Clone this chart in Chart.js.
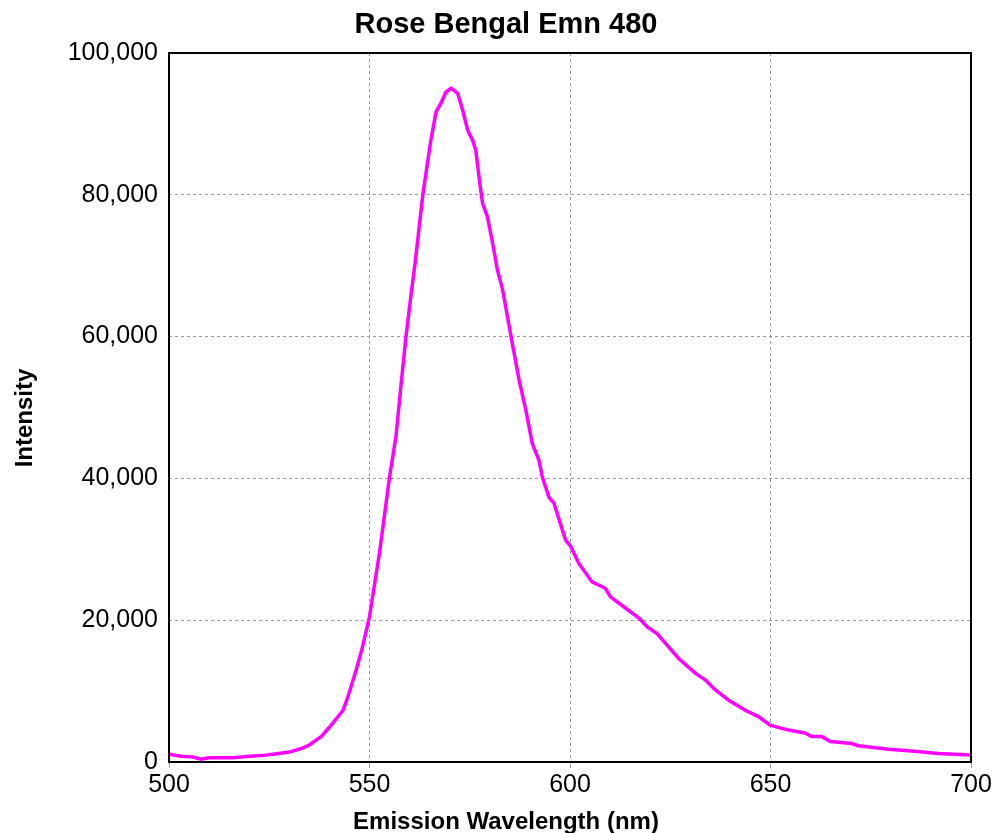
<!DOCTYPE html>
<html>
<head>
<meta charset="utf-8">
<script src="https://cdn.jsdelivr.net/npm/chart.js@4"></script>
<style>
  html, body { margin: 0; padding: 0; background: #fff; }
  #wrap { width: 999px; height: 833px; }
</style>
</head>
<body>
<div id="wrap"><canvas id="emnchart"></canvas></div>
<script>
const wavelength = [500, 503, 506, 508, 510, 513, 516, 520, 523, 526, 530, 533, 535, 538, 540, 541, 543.4, 544.5, 546.7, 548.3, 550, 552.5, 555, 556.6, 557.9, 559.1, 560.4, 561.4, 563.3, 565.3, 566.6, 567.8, 569.1, 570.3, 571.2, 572, 573.2, 574.5, 575.7, 576.5, 577.4, 578.2, 579.4, 580.7, 581.9, 583.2, 585.3, 587.3, 589, 590.6, 592.3, 593.1, 594.8, 596, 598.9, 600.1, 602.2, 605.5, 608.8, 610.1, 613.4, 617.2, 619.2, 621.7, 627.1, 631.3, 633.7, 636.2, 639.6, 643.7, 647, 649.9, 654.5, 658.6, 660.3, 662.8, 664.9, 670.3, 671.9, 679.4, 686, 691.8, 700];
const intensity = [1100, 800, 700, 400, 600, 600, 600, 800, 900, 1100, 1400, 1900, 2400, 3600, 4900, 5600, 7300, 9000, 13000, 16300, 20500, 29500, 40200, 45900, 53400, 60000, 66100, 70500, 80000, 87700, 91700, 92900, 94500, 95000, 94700, 94300, 92000, 89100, 87700, 86300, 82100, 78800, 76900, 73200, 69400, 66600, 60000, 53900, 49600, 44900, 42500, 40200, 37300, 36500, 31300, 30500, 28000, 25400, 24500, 23300, 21900, 20300, 19100, 18100, 14600, 12500, 11600, 10200, 8700, 7300, 6400, 5200, 4500, 4100, 3600, 3600, 2900, 2600, 2300, 1800, 1500, 1200, 1000];
const xTicks = [500, 550, 600, 650, 700];
const yTicks = [0, 20000, 40000, 60000, 80000, 100000];

const chartTitle = "Rose Bengal Emn 480";
const xTitle = "Emission Wavelength (nm)";
const yTitle = "Intensity";

const points = wavelength.map((w, i) => ({ x: w, y: intensity[i] }));

// black frame round the plot area, plus the titles (the original
// centres them on the picture rather than on the plot area)
const frame = {
  id: "frame",
  afterDraw(chart) {
    const a = chart.chartArea;
    const ctx = chart.ctx;
    ctx.save();
    ctx.strokeStyle = "#000";
    ctx.lineWidth = 2;
    ctx.strokeRect(a.left, a.top, a.right - a.left, a.bottom - a.top);

    ctx.fillStyle = "#000";
    ctx.textAlign = "center";
    ctx.textBaseline = "alphabetic";
    ctx.font = "bold 29px 'Liberation Sans', Arial";
    ctx.fillText(chartTitle, 506, 33);
    ctx.font = "bold 24px 'Liberation Sans', Arial";
    ctx.fillText(xTitle, 506, 829);
    ctx.translate(32, 418);
    ctx.rotate(-Math.PI / 2);
    ctx.fillText(yTitle, 0, 0);
    ctx.restore();
  },
};

new Chart(document.getElementById("emnchart"), {
  type: "line",
  data: {
    datasets: [
      {
        label: chartTitle,
        data: points,
        borderColor: "#ff00ff",
        borderWidth: 3.5,
        pointRadius: 0,
        tension: 0,
        fill: false,
      },
    ],
  },
  options: {
    responsive: true,
    maintainAspectRatio: false,
    animation: false,
    layout: { padding: { left: 4, right: 28, top: 53, bottom: 0 } },
    plugins: {
      legend: { display: false },
      tooltip: { enabled: false },
      title: { display: false },
    },
    scales: {
      x: {
        type: "linear",
        min: 500,
        max: 700,
        afterBuildTicks: (axis) => {
          axis.ticks = xTicks.map((v) => ({ value: v }));
        },
        afterFit: (axis) => {
          axis.height = 71;
        },
        grid: { color: "#999", lineWidth: 1, tickLength: 6 },
        border: { display: false, dash: [3, 3] },
        ticks: {
          color: "#000",
          padding: 2,
          maxRotation: 0,
          font: { family: "Liberation Sans, Arial", size: 25 },
        },
      },
      y: {
        min: 0,
        max: 100000,
        afterBuildTicks: (axis) => {
          axis.ticks = yTicks.map((v) => ({ value: v }));
        },
        afterFit: (axis) => {
          axis.width = 165;
        },
        grid: { color: "#999", lineWidth: 1, drawTicks: false },
        border: { display: false, dash: [3, 3] },
        ticks: {
          color: "#000",
          padding: 11,
          font: { family: "Liberation Sans, Arial", size: 25 },
          callback: (v) => v.toLocaleString("en-US"),
        },
      },
    },
  },
  plugins: [frame],
});
</script>
</body>
</html>
